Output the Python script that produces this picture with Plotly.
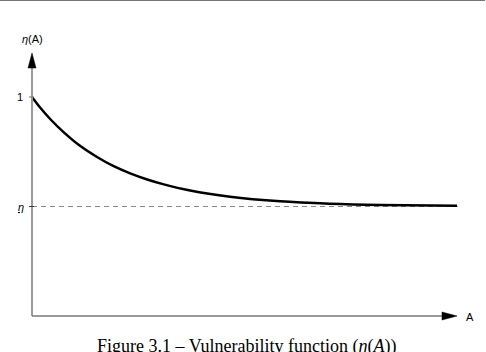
import plotly.graph_objects as go

# Data
A_vals = [0.0, 0.19, 0.45, 0.73, 1.13, 1.53, 1.91, 2.31, 2.71, 3.08, 3.72, 4.66, 5.84, 7.01, 8.19, 10.0]
eta_vals = [1.0, 0.952, 0.895, 0.842, 0.777, 0.726, 0.685, 0.651, 0.623, 0.602, 0.573, 0.545, 0.524, 0.513, 0.507, 0.503]
eta_floor = 0.5
tick_one = 1.0
A_max = 10.0

W, H = 486, 352
px_per_A = 42.5
px_per_eta = 219.0
x0 = -32 / px_per_A
x1 = x0 + W / px_per_A
y0 = -(H - 316) / px_per_eta
y1 = y0 + H / px_per_eta

dxA = 1 / px_per_A
dyE = 1 / px_per_eta

fig = go.Figure()

# dashed lower bound
fig.add_trace(go.Scatter(x=[0, A_max * 1.002], y=[eta_floor, eta_floor], mode="lines",
                         line=dict(color="#888888", width=1, dash="5px,4px"),
                         hoverinfo="skip", showlegend=False))
# curve
fig.add_trace(go.Scatter(x=A_vals, y=eta_vals, mode="lines", line_shape="spline",
                         line=dict(color="black", width=2.5, smoothing=1.0),
                         hoverinfo="skip", showlegend=False))

shapes = []
y_arrow_tip = (316 - 53) * dyE
x_arrow_tip = (457 - 32) * dxA
shapes.append(dict(type="line", xref="x", yref="y", x0=0, x1=0, y0=0, y1=y_arrow_tip - 10 * dyE,
                   line=dict(color="#9a9a9a", width=2)))
shapes.append(dict(type="line", xref="x", yref="y", x0=0, x1=x_arrow_tip - 10 * dxA, y0=0, y1=0,
                   line=dict(color="#777777", width=1.5)))
yh = y_arrow_tip
shapes.append(dict(type="path", xref="x", yref="y",
                   path=f"M {-4*dxA} {yh-15*dyE} L 0 {yh} L {4*dxA} {yh-15*dyE} Z",
                   fillcolor="black", line=dict(color="black", width=0.5)))
xh = x_arrow_tip
shapes.append(dict(type="path", xref="x", yref="y",
                   path=f"M {xh-15*dxA} {4*dyE} L {xh} 0 L {xh-15*dxA} {-4*dyE} Z",
                   fillcolor="black", line=dict(color="black", width=0.5)))
shapes.append(dict(type="line", xref="x", yref="y", x0=-3 * dxA, x1=2 * dxA, y0=tick_one, y1=tick_one,
                   line=dict(color="#777777", width=1)))
shapes.append(dict(type="line", xref="x", yref="y", x0=-3 * dxA, x1=2 * dxA, y0=eta_floor, y1=eta_floor,
                   line=dict(color="#333333", width=1)))
shapes.append(dict(type="line", xref="paper", yref="paper", x0=0, x1=0.998, y0=1, y1=1,
                   line=dict(color="#777777", width=2)))

ann_font = dict(family="Liberation Sans, Arial", size=11, color="black")
annotations = [
    dict(x=-12 * dxA, y=(316 - 39) * dyE, xref="x", yref="y", text="<i>η</i>(A)",
         showarrow=False, font=ann_font, xanchor="left", yanchor="middle"),
    dict(x=-7 * dxA, y=tick_one, xref="x", yref="y", text="1",
         showarrow=False, font=ann_font, xanchor="right", yanchor="middle"),
    dict(x=-6 * dxA, y=eta_floor, xref="x", yref="y",
         text='<span style="text-decoration:underline"><i>η</i></span>',
         showarrow=False, font=ann_font, xanchor="right", yanchor="middle"),
    dict(x=(464 - 32) * dxA, y=-1 * dyE, xref="x", yref="y", text="A",
         showarrow=False, font=ann_font, xanchor="left", yanchor="middle"),
    dict(x=246 / W, y=(H - 334) / H, xref="paper", yref="paper",
         text="Figure 3.1 – Vulnerability function (<i>η</i>(<i>A</i>))",
         showarrow=False, font=dict(family="Liberation Serif, DejaVu Serif", size=18, color="black"),
         xanchor="center", yanchor="top"),
]

fig.update_layout(
    width=W, height=H, margin=dict(l=0, r=0, t=0, b=0),
    paper_bgcolor="white", plot_bgcolor="white",
    xaxis=dict(range=[x0, x1], visible=False, fixedrange=True),
    yaxis=dict(range=[y0, y1], visible=False, fixedrange=True),
    shapes=shapes, annotations=annotations, showlegend=False,
)

fig.write_html("out.html")
